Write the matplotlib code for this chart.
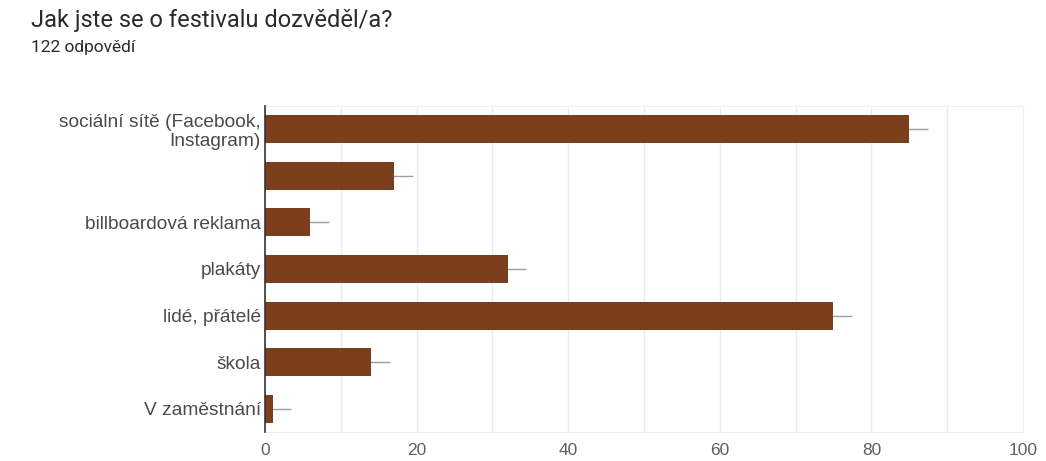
import matplotlib.pyplot as plt
import numpy as np

labels = ["sociální sítě (Facebook,\nInstagram)", "", "billboardová reklama",
          "plakáty", "lidé, přátelé", "škola", "V zaměstnání"]
counts = [85, 17, 6, 32, 75, 14, 1]
spread = [2.5, 2.5, 2.5, 2.5, 2.5, 2.5, 2.5]
xticks = [0, 20, 40, 60, 80, 100]

bar_color = "#7b3f1d"

fig = plt.figure(figsize=(10.46, 4.61), dpi=100)
ax = fig.add_axes([0.2533, 0.063, 0.7247, 0.707])

y = np.arange(len(counts))
ax.barh(y, counts, height=0.6, color=bar_color, zorder=3)
ax.errorbar(counts, y, xerr=spread, fmt="none", ecolor="#9e9e9e",
            elinewidth=1, capsize=0, zorder=2)

ax.set_ylim(len(counts) - 0.5, -0.5)
ax.set_xlim(0, 100)
ax.set_yticks(y)
ax.set_yticklabels(labels, fontsize=13.8, color="#4a4a4a", family="Liberation Sans",
                   linespacing=1.1)
ax.set_xticks(xticks)
ax.set_xticklabels([str(t) for t in xticks], fontsize=12.5, color="#5f5f5f",
                   family="Liberation Sans")
ax.set_xticks(np.arange(0, 101, 10), minor=True)
ax.tick_params(axis="both", which="both", length=0)
ax.tick_params(axis="x", pad=8)
ax.tick_params(axis="y", pad=3)
ax.grid(axis="x", which="both", color="#ececec", lw=1, zorder=0)

for side in ["top", "right", "bottom"]:
    ax.spines[side].set_color("#efefef")
ax.spines["left"].set_color("#333333")
ax.spines["left"].set_linewidth(1.2)
ax.spines["left"].set_zorder(4)

fig.text(0.030, 0.955, "Jak jste se o festivalu dozvěděl/a?", fontsize=17,
         family="Roboto", color="#2a2a2a", va="center")
fig.text(0.030, 0.898, "122 odpovědí", fontsize=12.5, family="Roboto",
         color="#2a2a2a", va="center")

fig.savefig("out.png", dpi=100)
